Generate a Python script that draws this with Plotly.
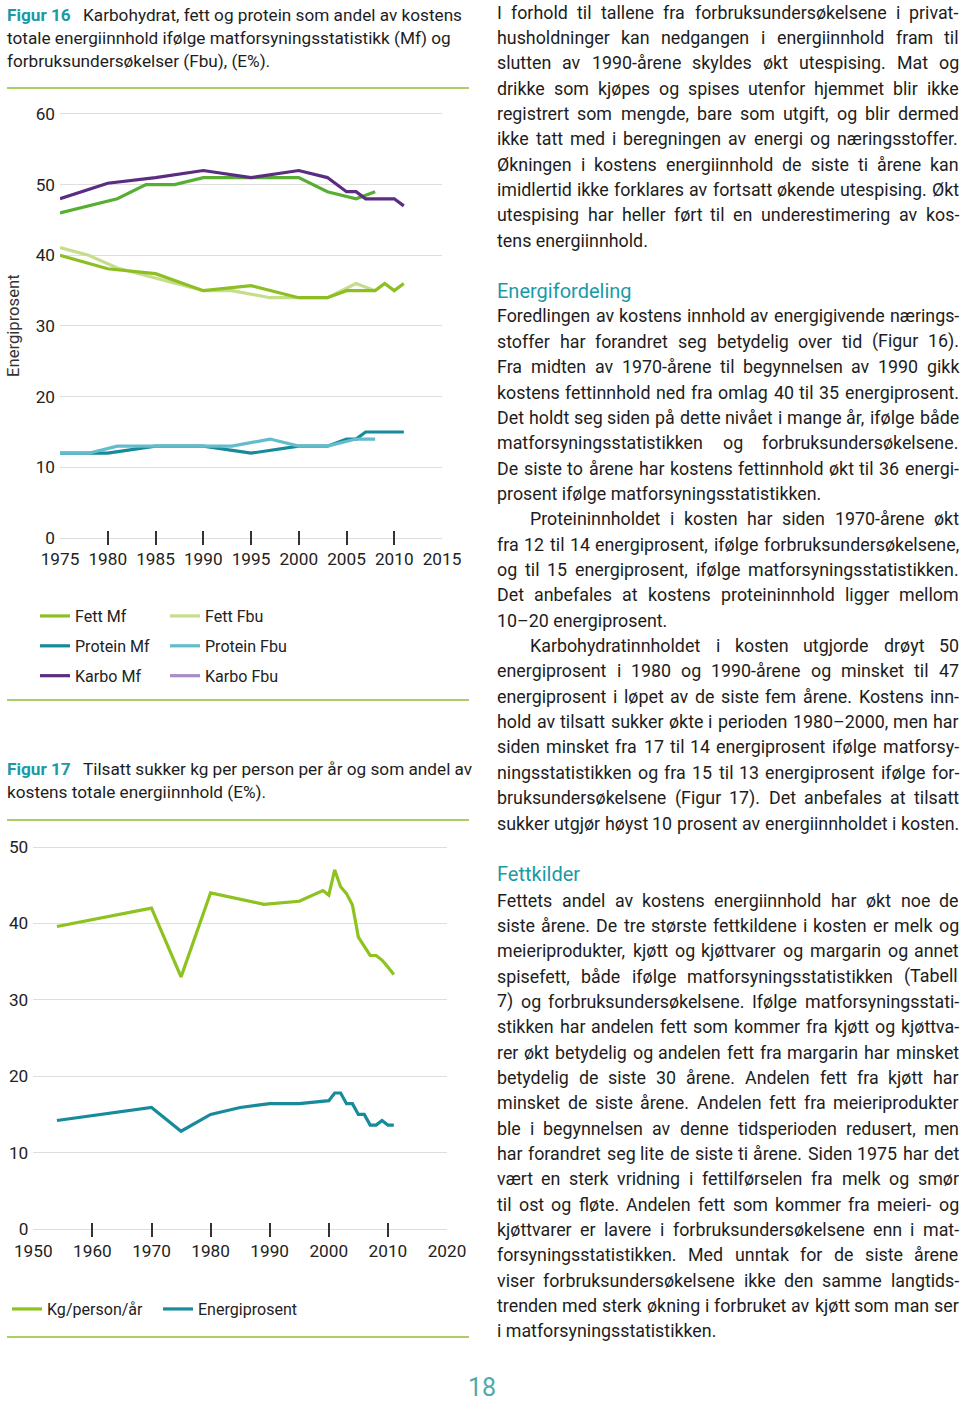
import os
import struct
import plotly.graph_objects as go

# ---------------- Figur 16 data (energiprosent) ----------------
fett_mf_years = [1975, 1980, 1985, 1990, 1995, 2000, 2003, 2005, 2008, 2009, 2010, 2011]
fett_mf = [40, 38.1, 37.4, 35, 35.7, 34, 34, 35, 35, 36, 35, 36]

fett_fbu_years = [1975, 1978, 1981, 1990, 1993, 1997, 2003, 2006, 2008]
fett_fbu = [41.1, 40, 38.2, 35, 35, 34, 34, 36, 35]

protein_mf_years = [1975, 1980, 1985, 1990, 1995, 2000, 2003, 2005, 2006, 2007, 2011]
protein_mf = [12, 12, 13, 13, 12, 13, 13, 14, 14, 15, 15]

protein_fbu_years = [1975, 1978, 1981, 1990, 1993, 1997, 2000, 2003, 2006, 2008]
protein_fbu = [12, 12, 13, 13, 13, 14, 13, 13, 14, 14]

karbo_mf_years = [1975, 1980, 1985, 1990, 1995, 2000, 2003, 2005, 2006, 2007, 2010, 2011]
karbo_mf = [48, 50.2, 51, 52, 51, 52, 51, 49, 49, 48, 48, 47]

karbo_fbu_years = [1975, 1981, 1984, 1987, 1990, 2000, 2003, 2006, 2008]
karbo_fbu = [46, 48, 50, 50, 51, 51, 49, 48, 49]

fig16_xticks = [1975, 1980, 1985, 1990, 1995, 2000, 2005, 2010, 2015]
fig16_yticks = [0, 10, 20, 30, 40, 50, 60]

# ---------------- Figur 17 data (tilsatt sukker) ----------------
kg_years = [1954, 1970, 1975, 1980, 1989, 1995, 1999, 2000, 2001, 2002, 2003,
            2004, 2005, 2006, 2007, 2008, 2009, 2010, 2011]
kg_values = [39.6, 42, 33, 44, 42.5, 42.9, 44.3, 43.7, 47, 44.8, 43.9,
             42.4, 38.2, 37, 35.8, 35.8, 35.2, 34.3, 33.3]

ep_years = [1954, 1970, 1975, 1980, 1985, 1990, 1995, 1999, 2000, 2001, 2002,
            2003, 2004, 2005, 2006, 2007, 2008, 2009, 2010, 2011]
ep_values = [14.2, 15.9, 12.8, 15.0, 15.9, 16.4, 16.4, 16.8, 16.8, 17.8, 17.8,
             16.4, 16.4, 15.0, 15.0, 13.6, 13.6, 14.2, 13.6, 13.6]

fig17_xticks = [1950, 1960, 1970, 1980, 1990, 2000, 2010, 2020]
fig17_yticks = [0, 10, 20, 30, 40, 50]

# ---------------- page text ----------------
cap16_label = "Figur 16"
cap16_lines = ["Karbohydrat, fett og protein som andel av kostens",
               "totale energiinnhold ifølge matforsyningsstatistikk (Mf) og",
               "forbruksundersøkelser (Fbu), (E%)."]
cap17_label = "Figur 17"
cap17_lines = ["Tilsatt sukker kg per person per år og som andel av",
               "kostens totale energiinnhold (E%)."]

block1 = [
    "I forhold til tallene fra forbruksundersøkelsene i privat-",
    "husholdninger kan nedgangen i energiinnhold fram til",
    "slutten av 1990-årene skyldes økt utespising. Mat og",
    "drikke som kjøpes og spises utenfor hjemmet blir ikke",
    "registrert som mengde, bare som utgift, og blir dermed",
    "ikke tatt med i beregningen av energi og næringsstoffer.",
    "Økningen i kostens energiinnhold de siste ti årene kan",
    "imidlertid ikke forklares av fortsatt økende utespising. Økt",
    "utespising har heller ført til en underestimering av kos-",
    "tens energiinnhold.",
]
heading1 = "Energifordeling"
block2 = [
    "Foredlingen av kostens innhold av energigivende nærings-",
    "stoffer har forandret seg betydelig over tid (Figur 16).",
    "Fra midten av 1970-årene til begynnelsen av 1990 gikk",
    "kostens fettinnhold ned fra omlag 40 til 35 energiprosent.",
    "Det holdt seg siden på dette nivået i mange år, ifølge både",
    "matforsyningsstatistikken og forbruksundersøkelsene.",
    "De siste to årene har kostens fettinnhold økt til 36 energi-",
    "prosent ifølge matforsyningsstatistikken.",
    "Proteininnholdet i kosten har siden 1970-årene økt",
    "fra 12 til 14 energiprosent, ifølge forbruksundersøkelsene,",
    "og til 15 energiprosent, ifølge matforsyningsstatistikken.",
    "Det anbefales at kostens proteininnhold ligger mellom",
    "10–20 energiprosent.",
    "Karbohydratinnholdet i kosten utgjorde drøyt 50",
    "energiprosent i 1980 og 1990-årene og minsket til 47",
    "energiprosent i løpet av de siste fem årene. Kostens inn-",
    "hold av tilsatt sukker økte i perioden 1980–2000, men har",
    "siden minsket fra 17 til 14 energiprosent ifølge matforsy-",
    "ningsstatistikken og fra 15 til 13 energiprosent ifølge for-",
    "bruksundersøkelsene (Figur 17). Det anbefales at tilsatt",
    "sukker utgjør høyst 10 prosent av energiinnholdet i kosten.",
]
heading2 = "Fettkilder"
block3 = [
    "Fettets andel av kostens energiinnhold har økt noe de",
    "siste årene. De tre største fettkildene i kosten er melk og",
    "meieriprodukter, kjøtt og kjøttvarer og margarin og annet",
    "spisefett, både ifølge matforsyningsstatistikken (Tabell",
    "7) og forbruksundersøkelsene. Ifølge matforsyningsstati-",
    "stikken har andelen fett som kommer fra kjøtt og kjøttva-",
    "rer økt betydelig og andelen fett fra margarin har minsket",
    "betydelig de siste 30 årene. Andelen fett fra kjøtt har",
    "minsket de siste årene. Andelen fett fra meieriprodukter",
    "ble i begynnelsen av denne tidsperioden redusert, men",
    "har forandret seg lite de siste ti årene. Siden 1975 har det",
    "vært en sterk vridning i fettilførselen fra melk og smør",
    "til ost og fløte. Andelen fett som kommer fra meieri- og",
    "kjøttvarer er lavere i forbruksundersøkelsene enn i mat-",
    "forsyningsstatistikken. Med unntak for de siste årene",
    "viser forbruksundersøkelsene ikke den samme langtids-",
    "trenden med sterk økning i forbruket av kjøtt som man ser",
    "i matforsyningsstatistikken.",
]
page_number = "18"

# ---------------- styling ----------------
FONT = "Roboto"
PAGE_W, PAGE_H = 960, 1403
TEXT = "#1d1d1d"
TEAL = "#1b9aa5"
RULE = "#a9cf66"
GRID = "#dedede"

C_FETT_MF = "#8dbf22"
C_FETT_FBU = "#c6dd8c"
C_PROT_MF = "#16899a"
C_PROT_FBU = "#62bccb"
C_KARBO_MF = "#5a2d82"
C_KARBO_FBU_LINE = "#58ad33"
C_KARBO_FBU_LEG = "#a78dc6"
C_KG = "#8dc21f"
C_EP = "#178b9c"
LW = 3.2


# ---------------- font metrics (for justified text) ----------------
def find_font():
    roots = ["/usr/share/fonts", "/usr/local/share/fonts",
             os.path.expanduser("~/.fonts"), os.path.expanduser("~/.local/share/fonts")]
    cands = []
    for root in roots:
        if not os.path.isdir(root):
            continue
        for r, _, files in os.walk(root):
            for f in files:
                cands.append(os.path.join(r, f))
    for p in cands:
        if os.path.basename(p).lower() in ("roboto-regular.ttf", "roboto-regular.otf"):
            return p
    bad = ("italic", "condensed", "mono", "slab", "bold", "light", "thin", "medium", "black", "flex", "serif")
    for p in cands:
        b = os.path.basename(p).lower()
        if b.startswith("roboto") and b.endswith((".ttf", ".otf")) and not any(k in b for k in bad):
            return p
    return None


class Metrics:
    def __init__(self, path):
        data = open(path, "rb").read()
        num = struct.unpack(">H", data[4:6])[0]
        tables = {}
        for i in range(num):
            tag, _, off, ln = struct.unpack(">4sIII", data[12 + 16 * i:28 + 16 * i])
            tables[tag.decode("latin1")] = off
        head = tables["head"]
        self.upem = struct.unpack(">H", data[head + 18:head + 20])[0]
        hhea = tables["hhea"]
        nhm = struct.unpack(">H", data[hhea + 34:hhea + 36])[0]
        hm = tables["hmtx"]
        self.adv = [struct.unpack(">H", data[hm + 4 * i:hm + 4 * i + 2])[0] for i in range(nhm)]
        cm = tables["cmap"]
        n = struct.unpack(">H", data[cm + 2:cm + 4])[0]
        self.cmap = {}
        for i in range(n):
            pid, eid, off = struct.unpack(">HHI", data[cm + 4 + 8 * i:cm + 12 + 8 * i])
            sub = cm + off
            fmt = struct.unpack(">H", data[sub:sub + 2])[0]
            if fmt != 4:
                continue
            segx2 = struct.unpack(">H", data[sub + 6:sub + 8])[0]
            seg = segx2 // 2
            ends = struct.unpack(">%dH" % seg, data[sub + 14:sub + 14 + segx2])
            starts = struct.unpack(">%dH" % seg, data[sub + 16 + segx2:sub + 16 + 2 * segx2])
            deltas = struct.unpack(">%dh" % seg, data[sub + 16 + 2 * segx2:sub + 16 + 3 * segx2])
            rpos = sub + 16 + 3 * segx2
            roffs = struct.unpack(">%dH" % seg, data[rpos:rpos + segx2])
            for s in range(seg):
                for c in range(starts[s], min(ends[s], 0x2FFF) + 1):
                    if roffs[s] == 0:
                        g = (c + deltas[s]) & 0xFFFF
                    else:
                        a = rpos + 2 * s + roffs[s] + 2 * (c - starts[s])
                        g = struct.unpack(">H", data[a:a + 2])[0]
                        if g:
                            g = (g + deltas[s]) & 0xFFFF
                    self.cmap.setdefault(c, g)
            if self.cmap:
                break

    def width(self, text, size):
        tot = 0
        for ch in text:
            g = self.cmap.get(ord(ch), 0)
            tot += self.adv[g] if g < len(self.adv) else self.adv[-1]
        return tot * size / self.upem


metrics = None
try:
    fp = find_font()
    if fp:
        metrics = Metrics(fp)
except Exception:
    metrics = None


def w1(text):
    if metrics is None:
        return 0.5 * len(text)
    return metrics.width(text, 1.0)


COL_X0, COL_X1 = 497.0, 959.0
justified = [l for l in block1[:-1] + block2 + block3[:-1]]
if metrics is not None:
    S_BODY = min(20.0, min((COL_X1 - COL_X0) / w1(l) for l in justified))
    S_CAP = 444.0 / w1(cap16_lines[1])
    S_HEAD = 135.0 / w1(heading1)
    S_TICK = 38.7 / w1("1975")
    S_LEG = 82.0 / w1("Protein Fbu")
    S_AT = 103.0 / w1("Energiprosent")
else:
    S_BODY, S_CAP, S_HEAD, S_TICK, S_LEG, S_AT = 17.5, 17.5, 20, 17, 16, 16

annotations = []


def put(x, y, text, size, color=TEXT, anchor="left", **kw):
    annotations.append(dict(
        x=x / PAGE_W, y=1 - y / PAGE_H, xref="paper", yref="paper",
        text=text, showarrow=False, xanchor=anchor, yanchor="middle",
        borderpad=0, borderwidth=0,
        font=dict(family=FONT, size=size, color=color), **kw))


def justify(x0, x1, y, line, size):
    words = line.split(" ")
    if metrics is None or len(words) < 2:
        put(x0, y, line, size)
        return
    ws = [metrics.width(w, size) for w in words]
    gap = (x1 - x0 - sum(ws)) / (len(words) - 1)
    x = x0
    for w, wd in zip(words, ws):
        put(x, y, w, size)
        x += wd + gap


LINE = 25.35
INDENT = 33.0


def block(y0, lines, left_idx, indent_idx):
    for i, line in enumerate(lines):
        y = y0 + i * LINE
        x0 = COL_X0 + (INDENT if i in indent_idx else 0)
        if i in left_idx:
            put(x0, y, line, S_BODY)
        else:
            justify(x0, COL_X1, y, line, S_BODY)


block(12, block1, {9}, set())
put(COL_X0, 291, heading1, S_HEAD, TEAL)
block(316, block2, {7, 12}, {8, 13})
put(COL_X0, 874, heading2, S_HEAD, TEAL)
block(900, block3, {17}, set())
put(482, 1387, page_number, 25, "#4faaa8", anchor="center")

# captions
put(7, 15, "<b>%s</b>" % cap16_label, S_CAP, TEAL)
put(83, 15, cap16_lines[0], S_CAP)
put(7, 38, cap16_lines[1], S_CAP)
put(7, 61, cap16_lines[2], S_CAP)
put(7, 769, "<b>%s</b>" % cap17_label, S_CAP, TEAL)
put(83, 769, cap17_lines[0], S_CAP)
put(7, 792, cap17_lines[1], S_CAP)

# y-axis title of Figur 16
put(14, 326, "Energiprosent", S_AT, "#333333", anchor="center", textangle=-90)

# ---------------- figure ----------------
fig = go.Figure()


def line_trace(x, y, name, color, xa, ya, legend, group, show=True):
    return go.Scatter(x=x, y=y, name=name, mode="lines",
                      line=dict(color=color, width=LW),
                      xaxis=xa, yaxis=ya, legend=legend, legendgroup=group,
                      showlegend=show, hoverinfo="skip")


# Figur 16
fig.add_trace(line_trace(karbo_fbu_years, karbo_fbu, "Karbo Fbu", C_KARBO_FBU_LINE, "x", "y", "legend2", "kf", show=False))
fig.add_trace(line_trace(karbo_mf_years, karbo_mf, "Karbo Mf", C_KARBO_MF, "x", "y", "legend", "km"))
fig.add_trace(line_trace(fett_fbu_years, fett_fbu, "Fett Fbu", C_FETT_FBU, "x", "y", "legend2", "ff"))
fig.add_trace(line_trace(fett_mf_years, fett_mf, "Fett Mf", C_FETT_MF, "x", "y", "legend", "fm"))
fig.add_trace(line_trace(protein_mf_years, protein_mf, "Protein Mf", C_PROT_MF, "x", "y", "legend", "pm"))
fig.add_trace(line_trace(protein_fbu_years, protein_fbu, "Protein Fbu", C_PROT_FBU, "x", "y", "legend2", "pf"))
# legend entry for Karbo Fbu (legend colour differs from the drawn line)
fig.add_trace(line_trace([None], [None], "Karbo Fbu", C_KARBO_FBU_LEG, "x", "y", "legend2", "kfl"))

# Figur 17
fig.add_trace(line_trace(kg_years, kg_values, "Kg/person/år", C_KG, "x2", "y2", "legend3", "kg"))
fig.add_trace(line_trace(ep_years, ep_values, "Energiprosent", C_EP, "x2", "y2", "legend4", "ep"))

# legend orders
order16a = ["Fett Mf", "Protein Mf", "Karbo Mf"]
order16b = ["Fett Fbu", "Protein Fbu", "Karbo Fbu"]
for tr in fig.data:
    if tr.name in order16a and tr.showlegend is not False:
        tr.legendrank = 1000 + order16a.index(tr.name)
    if tr.name in order16b and tr.showlegend is not False:
        tr.legendrank = 1000 + order16b.index(tr.name)


def px_y(p):
    return 1 - p / PAGE_H


# Figur 16 axes: 0 at y=538px, 7.067 px/unit; x 1975 at 60px, 2015 at 442px
y16_bottom = 538 + 7.067
y16_top = 538 - 61 * 7.067
# Figur 17 axes: 0 at y=1229px, 7.64 px/unit; x 1950 at 33px, 2020 at 447px
y17_bottom = 1229 + 7.64
y17_top = 1229 - 51 * 7.64

tickfont = dict(family=FONT, size=S_TICK, color="#222222")
xcommon = dict(showgrid=False, zeroline=False, showline=False, ticks="inside",
               ticklen=14, tickwidth=1.6, tickcolor="#333333", tickfont=tickfont,
               fixedrange=True, automargin=False, ticklabelstandoff=2)
ycommon = dict(showgrid=True, gridcolor=GRID, gridwidth=1.2, zeroline=False,
               showline=False, ticks="", tickfont=tickfont, fixedrange=True,
               automargin=False, ticklabelstandoff=4)

fig.update_layout(
    width=PAGE_W, height=PAGE_H,
    margin=dict(l=0, r=0, t=0, b=0, pad=0, autoexpand=False),
    paper_bgcolor="white", plot_bgcolor="white",
    font=dict(family=FONT, color=TEXT),
    xaxis=dict(domain=[60 / PAGE_W, 442 / PAGE_W], range=[1975, 2015],
               tickvals=fig16_xticks, anchor="y", **xcommon),
    yaxis=dict(domain=[px_y(y16_bottom), px_y(y16_top)], range=[-1, 61],
               tickvals=fig16_yticks, anchor="x", **ycommon),
    xaxis2=dict(domain=[33.3 / PAGE_W, 447 / PAGE_W], range=[1950, 2020],
                tickvals=fig17_xticks, anchor="y2", **xcommon),
    yaxis2=dict(domain=[px_y(y17_bottom), px_y(y17_top)], range=[-1, 51],
                tickvals=fig17_yticks, anchor="x2", **ycommon),
    annotations=annotations,
    showlegend=True,
)

legfont = dict(family=FONT, size=S_LEG, color="#222222")
legcommon = dict(bgcolor="rgba(0,0,0,0)", borderwidth=0, font=legfont,
                 orientation="v", traceorder="grouped", tracegroupgap=6,
                 xref="paper", yref="paper", xanchor="left", yanchor="middle")
fig.update_layout(
    legend=dict(x=35 / PAGE_W, y=px_y(646), **legcommon),
    legend2=dict(x=165 / PAGE_W, y=px_y(646), **legcommon),
    legend3=dict(x=7 / PAGE_W, y=px_y(1309), **legcommon),
    legend4=dict(x=158 / PAGE_W, y=px_y(1309), **legcommon),
)

# horizontal green rules
for yy in (88, 700, 820, 1337):
    fig.add_shape(type="line", xref="paper", yref="paper",
                  x0=7 / PAGE_W, x1=469 / PAGE_W, y0=px_y(yy), y1=px_y(yy),
                  line=dict(color=RULE, width=2))

fig.write_html("out.html", config={"displayModeBar": False},
               post_script="document.body.style.margin='0';document.body.style.overflow='hidden';")
